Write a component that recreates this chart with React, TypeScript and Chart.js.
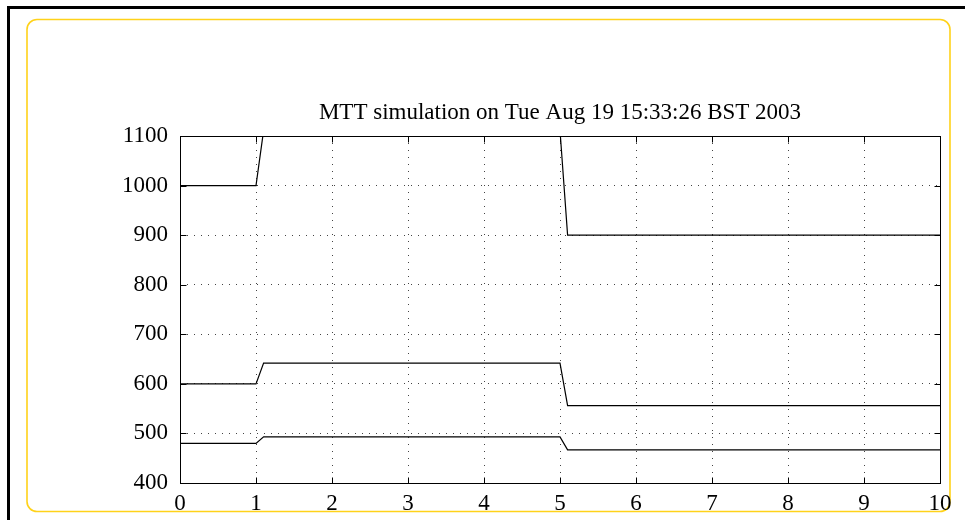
import React, { useEffect, useRef } from "react";
import { Chart, registerables } from "chart.js";

Chart.register(...registerables);

const titleText = "MTT simulation on Tue Aug 19 15:33:26 BST 2003";
const timeValues = [0, 1, 1.1, 5, 5.1, 10];
const seriesHigh = [1000, 1000, 1111, 1111, 900, 900];
const seriesMid = [600, 600, 642, 642, 556, 556];
const seriesLow = [480, 480, 493, 493, 467, 467];
const xTicks = [0, 1, 2, 3, 4, 5, 6, 7, 8, 9, 10];
const yTicks = [400, 500, 600, 700, 800, 900, 1000, 1100];

const FONT = "'Liberation Serif', 'Times New Roman', serif";

const toPoints = (ys: number[]) => ys.map((y, i) => ({ x: timeValues[i], y }));

const framePlugin = {
  id: "framePlugin",
  beforeDraw(chart: any) {
    const ctx = chart.ctx;
    ctx.save();
    ctx.fillStyle = "#ffffff";
    ctx.fillRect(0, 0, chart.width, chart.height);
    ctx.fillStyle = "#000000";
    ctx.fillRect(7, 6, chart.width - 7, 3);
    ctx.fillRect(7, 6, 3, chart.height - 6);
    ctx.strokeStyle = "#FFD21A";
    ctx.lineWidth = 1.6;
    const x0 = 27, y0 = 19.5, x1 = 950, y1 = 511.5, r = 10;
    ctx.beginPath();
    ctx.moveTo(x0 + r, y0);
    ctx.lineTo(x1 - r, y0);
    ctx.arcTo(x1, y0, x1, y0 + r, r);
    ctx.lineTo(x1, y1 - r);
    ctx.arcTo(x1, y1, x1 - r, y1, r);
    ctx.lineTo(x0 + r, y1);
    ctx.arcTo(x0, y1, x0, y1 - r, r);
    ctx.lineTo(x0, y0 + r);
    ctx.arcTo(x0, y0, x0 + r, y0, r);
    ctx.closePath();
    ctx.stroke();
    ctx.restore();
  },
  afterDraw(chart: any) {
    const ctx = chart.ctx;
    const a = chart.chartArea;
    const xs = chart.scales.x;
    const ys = chart.scales.y;
    ctx.save();
    ctx.strokeStyle = "#000000";
    ctx.lineWidth = 1;
    const L = Math.round(a.left) + 0.5;
    const R = Math.round(a.right) + 0.5;
    const T = Math.round(a.top) + 0.5;
    const B = Math.round(a.bottom) + 0.5;
    ctx.strokeRect(L, T, R - L, B - T);
    const tl = 6;
    ctx.beginPath();
    xTicks.forEach((v) => {
      const px = Math.round(xs.getPixelForValue(v)) + 0.5;
      ctx.moveTo(px, B);
      ctx.lineTo(px, B - tl);
      ctx.moveTo(px, T);
      ctx.lineTo(px, T + tl);
    });
    yTicks.forEach((v) => {
      const py = Math.round(ys.getPixelForValue(v)) + 0.5;
      ctx.moveTo(L, py);
      ctx.lineTo(L + tl, py);
      ctx.moveTo(R, py);
      ctx.lineTo(R - tl, py);
    });
    ctx.stroke();
    ctx.restore();
  },
};

export default function App() {
  const ref = useRef<HTMLCanvasElement | null>(null);
  useEffect(() => {
    document.body.style.margin = "0";
    if (!ref.current) return;
    const lineStyle = {
      borderColor: "#000000",
      borderWidth: 1.2,
      pointRadius: 0,
      fill: false,
      tension: 0,
    };
    const chart = new Chart(ref.current, {
      type: "line",
      data: {
        datasets: [
          { label: "high", data: toPoints(seriesHigh), ...lineStyle },
          { label: "mid", data: toPoints(seriesMid), ...lineStyle },
          { label: "low", data: toPoints(seriesLow), ...lineStyle },
        ],
      },
      options: {
        responsive: false,
        animation: false,
        events: [],
        layout: { padding: { left: 0, right: 25, top: 0, bottom: 0 } },
        plugins: {
          legend: { display: false },
          tooltip: { enabled: false },
          title: {
            display: true,
            text: titleText,
            fullSize: false,
            color: "#000000",
            font: { family: FONT, size: 23, weight: "normal" },
            padding: { top: 99, bottom: 9.4 },
          },
        },
        scales: {
          x: {
            type: "linear",
            min: 0,
            max: 10,
            afterFit: (s: any) => {
              s.height = 37;
            },
            afterBuildTicks: (s: any) => {
              s.ticks = xTicks.map((v) => ({ value: v }));
            },
            ticks: {
              color: "#000000",
              font: { family: FONT, size: 23 },
              padding: 7,
              maxRotation: 0,
              autoSkip: false,
              callback: (v: any) => String(v),
            },
            grid: { color: "#444444", lineWidth: 1, drawTicks: false },
            border: { display: false, dash: [1, 6] },
          },
          y: {
            type: "linear",
            min: 400,
            max: 1100,
            afterFit: (s: any) => {
              s.width = 180;
            },
            afterBuildTicks: (s: any) => {
              s.ticks = yTicks.map((v) => ({ value: v }));
            },
            ticks: {
              color: "#000000",
              font: { family: FONT, size: 23 },
              padding: 12,
              autoSkip: false,
              callback: (v: any) => String(v),
            },
            grid: { color: "#444444", lineWidth: 1, drawTicks: false },
            border: { display: false, dash: [1, 6] },
          },
        },
      },
      plugins: [framePlugin],
    } as any);
    return () => chart.destroy();
  }, []);
  return (
    <div style={{ position: "absolute", left: 0, top: 0, width: 965, height: 520 }}>
      <canvas ref={ref} width={965} height={520} style={{ display: "block" }} />
    </div>
  );
}
